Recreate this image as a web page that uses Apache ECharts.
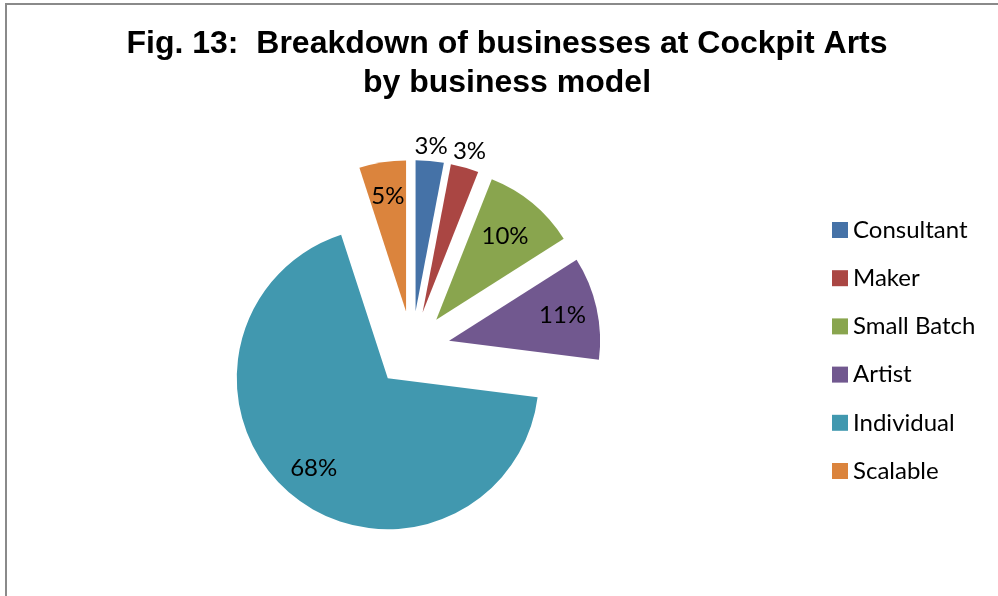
<!DOCTYPE html>
<html>
<head>
<meta charset="utf-8">
<title>Breakdown of businesses at Cockpit Arts by business model</title>
<script src="https://cdn.jsdelivr.net/npm/echarts@6/dist/echarts.min.js"></script>
<style>
  html, body { margin: 0; padding: 0; background: #ffffff; }
  #chart { width: 998px; height: 596px; }
</style>
</head>
<body>
<div id="chart"></div>
<script>
// Business models and their share of businesses (%)
const categories = ['Consultant', 'Maker', 'Small Batch', 'Artist', 'Individual', 'Scalable'];
const shares = [3, 3, 10, 11, 68, 5];

// Slice colours, one per business model
const sliceColors = ['#4572A7', '#AA4643', '#89A54E', '#71588F', '#4198AF', '#DB843D'];

const labelFont = 'Lato, "Liberation Sans", sans-serif';
const pieCenter = [412, 349];
const pieRadius = 151;
const explode = 38;

const chart = echarts.init(document.getElementById('chart'), null, { renderer: 'canvas' });

// Shared geometry for the drawn pie and the transparent label rings
function pieBase(radius) {
  return {
    type: 'pie',
    center: pieCenter,
    radius: [0, radius],
    startAngle: 90,
    clockwise: true,
    selectedMode: 'multiple',
    selectedOffset: explode,
    avoidLabelOverlap: false,
    labelLayout: { hideOverlap: false },
    animation: false,
    labelLine: { show: false, length: 0, length2: 0 }
  };
}

// A transparent ring of the same slices that only carries the value labels;
// an inside label sits halfway out along its slice, so the ring radius sets
// how far from the slice tip the label is drawn.
function labelRing(radius, labelled) {
  return Object.assign(pieBase(radius), {
    silent: true,
    tooltip: { show: false },
    itemStyle: { color: 'rgba(0,0,0,0)' },
    emphasis: { disabled: true },
    data: categories.map((name, i) => ({
      name: name,
      value: shares[i],
      selected: true,
      label: {
        show: labelled.indexOf(name) >= 0,
        position: 'inside',
        formatter: '{c}%',
        color: '#000000',
        fontFamily: labelFont,
        fontSize: 24
      }
    }))
  });
}

chart.setOption({
  animation: false,
  color: sliceColors,
  title: {
    text: 'Fig. 13:  Breakdown of businesses at Cockpit Arts\nby business model',
    left: 502,
    top: 20,
    textAlign: 'center',
    textStyle: {
      fontFamily: '"Liberation Sans", Arial, sans-serif',
      fontWeight: 'bold',
      fontSize: 32,
      lineHeight: 39,
      color: '#000000'
    }
  },
  legend: {
    orient: 'vertical',
    left: 827,
    top: 210,
    data: categories,
    icon: 'rect',
    itemWidth: 16,
    itemHeight: 16,
    itemGap: 18.2,
    selectedMode: false,
    textStyle: {
      fontFamily: labelFont,
      fontSize: 24,
      lineHeight: 30,
      color: '#000000'
    }
  },
  graphic: [{
    type: 'rect',
    silent: true,
    shape: { x: 6, y: 4, width: 1100, height: 700 },
    style: { fill: 'none', stroke: '#8a8a8a', lineWidth: 2 }
  }],
  series: [
    Object.assign(pieBase(pieRadius), {
      name: 'Business model',
      label: { show: false },
      emphasis: { disabled: true },
      data: categories.map((name, i) => ({ name: name, value: shares[i], selected: true }))
    }),
    // labels inside the larger slices
    labelRing(pieRadius * 1.5, ['Artist', 'Individual', 'Scalable']),
    labelRing(210, ['Small Batch']),
    // labels just beyond the rim of the two thinnest slices
    labelRing(326, ['Consultant']),
    labelRing(330, ['Maker'])
  ]
});
</script>
</body>
</html>
